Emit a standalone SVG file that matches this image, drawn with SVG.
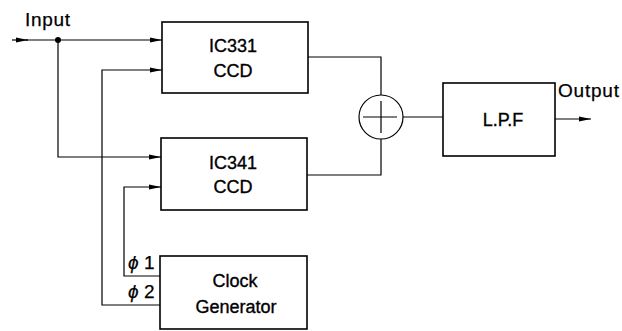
<svg xmlns="http://www.w3.org/2000/svg" width="622" height="331" viewBox="0 0 622 331">
<style>
.box{fill:#fff;stroke:#000;stroke-width:1.6}
.ln{fill:none;stroke:#000;stroke-width:1.2}
.t{font-family:"Liberation Sans",Arial,sans-serif;font-size:18px;fill:#000;stroke:#000;stroke-width:0.35;text-anchor:middle}
.l{font-family:"Liberation Sans",Arial,sans-serif;font-size:19px;fill:#000;stroke:#000;stroke-width:0.25}
</style>
<defs>
<marker id="ah" markerWidth="12" markerHeight="6" refX="12" refY="3" orient="auto" markerUnits="userSpaceOnUse">
<path d="M0,0.5 L12,3 L0,5.5 Z" fill="#000"/>
</marker>
</defs>
<rect width="622" height="331" fill="#fff"/>
<g id="ic331"><rect class="box" x="162" y="22" width="146" height="71"/><text class="t" x="233" y="52">IC331</text><text class="t" x="233" y="77">CCD</text></g>
<g id="ic341"><rect class="box" x="161" y="138" width="146" height="72"/><text class="t" x="233" y="169">IC341</text><text class="t" x="233" y="193">CCD</text></g>
<g id="clock"><rect class="box" x="160" y="256" width="147" height="73"/><text class="t" x="235" y="287">Clock</text><text class="t" x="236" y="313">Generator</text></g>
<g id="sum"><circle class="ln" cx="381" cy="117" r="22"/><path class="ln" d="M363,117 H397 M381,101 V133"/></g>
<g id="lpf"><rect class="box" x="443" y="83" width="112" height="73"/><text class="t" x="503" y="126">L.P.F</text></g>
<g id="labels">
<text class="l" x="25" y="26" textLength="45">Input</text>
<text class="l" x="558" y="97" textLength="61">Output</text>
<text class="l" x="128" y="269" font-size="17" font-style="italic">ϕ</text><text class="l" x="144" y="269" font-size="14">1</text>
<text class="l" x="128" y="298" font-size="17" font-style="italic">ϕ</text><text class="l" x="144" y="298" font-size="14">2</text>
</g>
<g id="connectors">
<line class="ln" x1="12" y1="40" x2="28" y2="40" marker-end="url(#ah)"/>
<line class="ln" x1="26" y1="40" x2="162" y2="40" marker-end="url(#ah)"/>
<circle cx="58" cy="40" r="3" fill="#000"/>
<polyline class="ln" points="58,40 58,157 161,157" marker-end="url(#ah)"/>
<polyline class="ln" points="160,305 102,305 102,70 162,70" marker-end="url(#ah)"/>
<polyline class="ln" points="160,276 124,276 124,187 161,187" marker-end="url(#ah)"/>
<polyline class="ln" points="308,57 381,57 381,95"/>
<polyline class="ln" points="307,175 381,175 381,139"/>
<line class="ln" x1="403" y1="117" x2="443" y2="117"/>
<line class="ln" x1="555" y1="119" x2="591" y2="119" marker-end="url(#ah)"/>
</g>
</svg>
